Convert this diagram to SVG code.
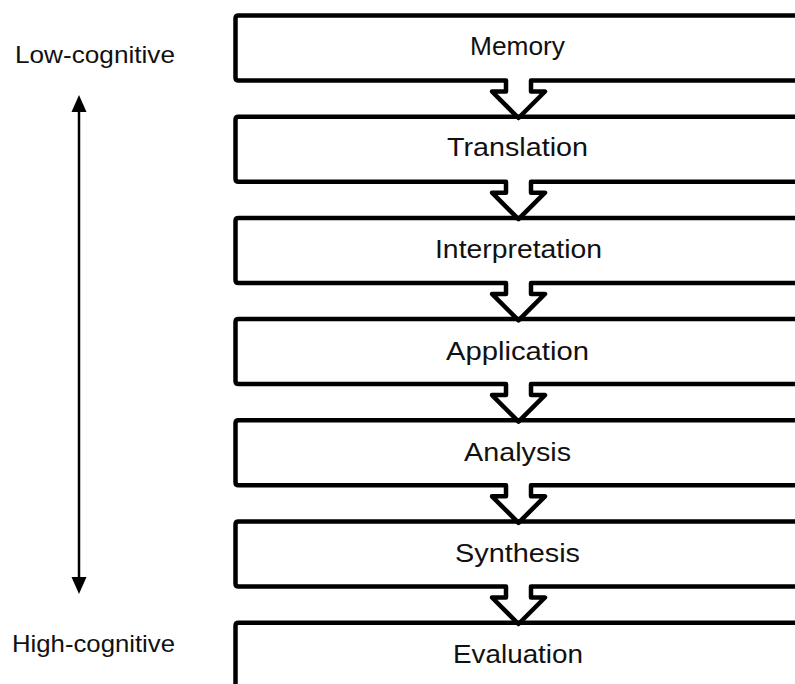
<svg xmlns="http://www.w3.org/2000/svg" width="795" height="684" viewBox="0 0 795 684">
<style>
.box{fill:none;stroke:#000;stroke-width:4.5;stroke-linejoin:round}
.lbl{font-family:"Liberation Sans",Arial,sans-serif;font-size:25px;fill:#111;text-anchor:middle}
.side{font-family:"Liberation Sans",Arial,sans-serif;font-size:24px;fill:#111}
.axis{stroke:#000;stroke-width:2.5;fill:none}
</style>
<rect width="795" height="684" fill="#fff"/>
<g id="connectors">
<path class="axis" d="M79,111 L79,579"/>
<polygon points="79,95 71.5,112 86.5,112" fill="#000"/>
<polygon points="79,594 71.5,577 86.5,577" fill="#000"/>
</g>
<g id="memory">
<path class="box" d="M800,15.5 L238.5,15.5 Q235.5,15.5 235.5,18.5 L235.5,77.5 Q235.5,80.5 238.5,80.5 L506,80.5 L506,91.5 L492,91.5 L518.5,118 L545,91.5 L531,91.5 L531,80.5 L800,80.5"/>
<text class="lbl" x="517.5" y="55" textLength="95" lengthAdjust="spacingAndGlyphs">Memory</text>
</g>
<g id="translation">
<path class="box" d="M800,116.7 L238.5,116.7 Q235.5,116.7 235.5,119.7 L235.5,178.7 Q235.5,181.7 238.5,181.7 L506,181.7 L506,192.7 L492,192.7 L518.5,219.2 L545,192.7 L531,192.7 L531,181.7 L800,181.7"/>
<text class="lbl" x="517.5" y="156.2" textLength="141" lengthAdjust="spacingAndGlyphs">Translation</text>
</g>
<g id="interpretation">
<path class="box" d="M800,217.9 L238.5,217.9 Q235.5,217.9 235.5,220.9 L235.5,279.9 Q235.5,282.9 238.5,282.9 L506,282.9 L506,293.9 L492,293.9 L518.5,320.4 L545,293.9 L531,293.9 L531,282.9 L800,282.9"/>
<text class="lbl" x="518.5" y="258.4" textLength="167" lengthAdjust="spacingAndGlyphs">Interpretation</text>
</g>
<g id="application">
<path class="box" d="M800,319.1 L238.5,319.1 Q235.5,319.1 235.5,322.1 L235.5,381.1 Q235.5,384.1 238.5,384.1 L506,384.1 L506,395.1 L492,395.1 L518.5,421.6 L545,395.1 L531,395.1 L531,384.1 L800,384.1"/>
<text class="lbl" x="517.5" y="359.6" textLength="143" lengthAdjust="spacingAndGlyphs">Application</text>
</g>
<g id="analysis">
<path class="box" d="M800,420.3 L238.5,420.3 Q235.5,420.3 235.5,423.3 L235.5,482.3 Q235.5,485.3 238.5,485.3 L506,485.3 L506,496.3 L492,496.3 L518.5,522.8 L545,496.3 L531,496.3 L531,485.3 L800,485.3"/>
<text class="lbl" x="517.5" y="460.8" textLength="107" lengthAdjust="spacingAndGlyphs">Analysis</text>
</g>
<g id="synthesis">
<path class="box" d="M800,521.5 L238.5,521.5 Q235.5,521.5 235.5,524.5 L235.5,583.5 Q235.5,586.5 238.5,586.5 L506,586.5 L506,597.5 L492,597.5 L518.5,624 L545,597.5 L531,597.5 L531,586.5 L800,586.5"/>
<text class="lbl" x="517.5" y="562" textLength="125" lengthAdjust="spacingAndGlyphs">Synthesis</text>
</g>
<g id="evaluation">
<path class="box" d="M800,622.7 L238.5,622.7 Q235.5,622.7 235.5,625.7 L235.5,690"/>
<text class="lbl" x="518" y="663.2" textLength="130" lengthAdjust="spacingAndGlyphs">Evaluation</text>
</g>
<g id="low-cognitive">
<text class="side" x="15" y="63" textLength="160" lengthAdjust="spacingAndGlyphs">Low-cognitive</text>
</g>
<g id="high-cognitive">
<text class="side" x="12" y="652" textLength="163" lengthAdjust="spacingAndGlyphs">High-cognitive</text>
</g>
</svg>
